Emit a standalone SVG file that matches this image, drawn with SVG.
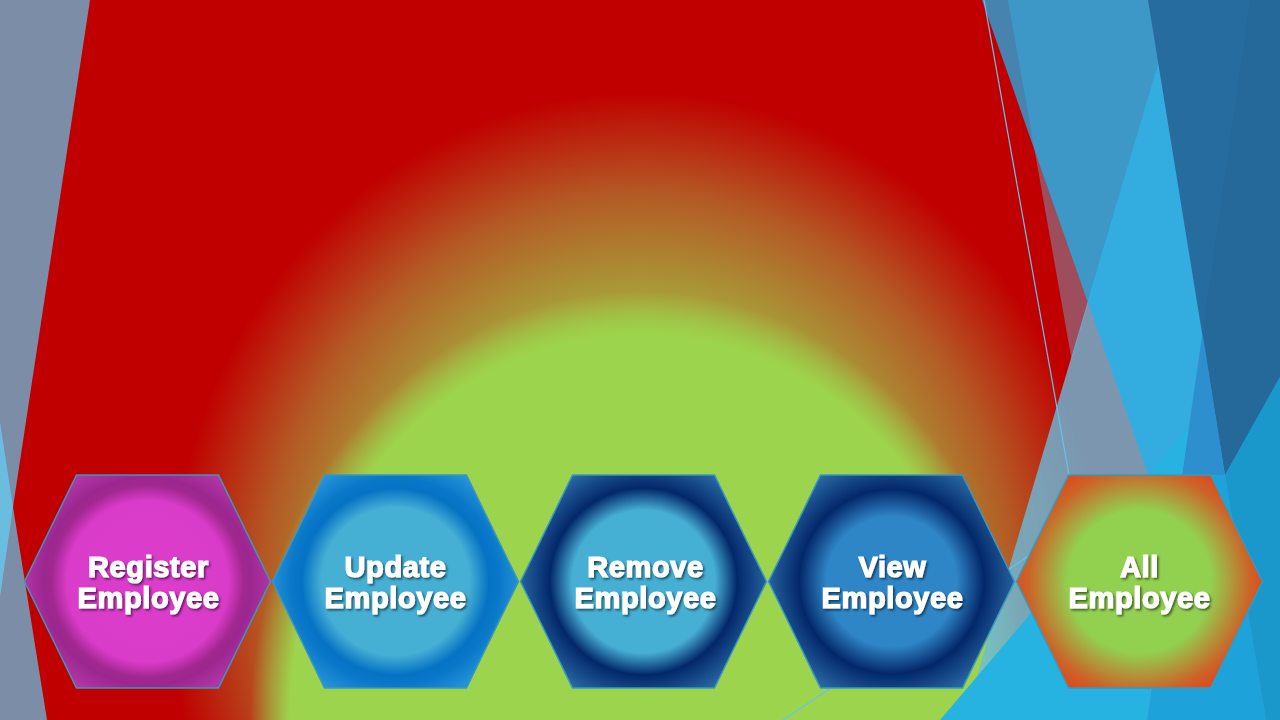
<svg xmlns="http://www.w3.org/2000/svg" width="1280" height="720" viewBox="0 0 1280 720">
  <defs>
    <style>
      .hex { stroke: #3A98BE; stroke-width: 1.5; }
      .lbl { font-family: "Liberation Sans", Arial, sans-serif; font-weight: 700; font-size: 29px; fill: #FFFFFF; stroke: #FFFFFF; stroke-width: 1.2; text-anchor: middle; letter-spacing: 0.6px; filter: url(#sh); }
      .thin { stroke: #62C4EC; stroke-width: 1.2; fill: none; }
    </style>
    <filter id="sh" x="-10%" y="-30%" width="130%" height="170%">
      <feDropShadow dx="1.6" dy="1.8" stdDeviation="0.9" flood-color="#000000" flood-opacity="0.55"/>
    </filter>
    <radialGradient id="bgA" gradientUnits="userSpaceOnUse" cx="640" cy="600" r="470" gradientTransform="translate(640 600) scale(1 1.08) translate(-640 -600)">
      <stop offset="0" stop-color="#9DD44D"/>
      <stop offset="0.55" stop-color="#A5AD3E"/>
      <stop offset="0.8" stop-color="#B45A25"/>
      <stop offset="1" stop-color="#C00000"/>
    </radialGradient>
    <radialGradient id="bgB" gradientUnits="userSpaceOnUse" cx="640" cy="720" r="398" gradientTransform="translate(640 720) scale(1 1.1) translate(-640 -720)">
      <stop offset="0" stop-color="#9DD44D" stop-opacity="1"/>
      <stop offset="0.88" stop-color="#9DD44D" stop-opacity="1"/>
      <stop offset="0.98" stop-color="#9DD44D" stop-opacity="0"/>
    </radialGradient>
    <radialGradient id="gMag" gradientUnits="userSpaceOnUse" cx="0" cy="0" r="130">
      <stop offset="0" stop-color="#DC3DCC"/>
      <stop offset="0.62" stop-color="#DA3CCA"/>
      <stop offset="0.74" stop-color="#A0288F"/>
      <stop offset="0.8" stop-color="#9C2690"/>
      <stop offset="1" stop-color="#B83AAD"/>
    </radialGradient>
    <radialGradient id="gUpd" gradientUnits="userSpaceOnUse" cx="0" cy="0" r="130">
      <stop offset="0" stop-color="#46AFD4"/>
      <stop offset="0.57" stop-color="#46AFD4"/>
      <stop offset="0.72" stop-color="#0572C3"/>
      <stop offset="0.8" stop-color="#0A78C8"/>
      <stop offset="1" stop-color="#2A9ADD"/>
    </radialGradient>
    <radialGradient id="gRem" gradientUnits="userSpaceOnUse" cx="0" cy="0" r="130">
      <stop offset="0" stop-color="#46AFD4"/>
      <stop offset="0.55" stop-color="#46AFD4"/>
      <stop offset="0.72" stop-color="#03286A"/>
      <stop offset="1" stop-color="#2D6FAA"/>
    </radialGradient>
    <radialGradient id="gView" gradientUnits="userSpaceOnUse" cx="0" cy="0" r="130">
      <stop offset="0" stop-color="#2F86C6"/>
      <stop offset="0.5" stop-color="#2F86C6"/>
      <stop offset="0.71" stop-color="#03286A"/>
      <stop offset="1" stop-color="#2D6FAA"/>
    </radialGradient>
    <radialGradient id="gAll" gradientUnits="userSpaceOnUse" cx="0" cy="0" r="130">
      <stop offset="0" stop-color="#92D050"/>
      <stop offset="0.55" stop-color="#92D050"/>
      <stop offset="0.85" stop-color="#CB6428"/>
      <stop offset="1" stop-color="#E3441A"/>
    </radialGradient>
    <polygon id="hexShape" points="-123,0 -71,-106.5 71,-106.5 123,0 71,106.5 -71,106.5"/>
  </defs>

  <g id="background">
    <rect x="0" y="0" width="1280" height="720" fill="url(#bgA)"/>
    <rect x="0" y="0" width="1280" height="720" fill="url(#bgB)"/>
  </g>

  <g id="decor-left">
    <polygon points="0,0 90,0 13,507 47,720 0,720" fill="#7C8DA8"/>
    <polygon points="0,422 13,507 0,597" fill="#6BBDE0"/>
  </g>

  <g id="decor-right">
    <polygon points="1008,0 1177,0 1071.7,360" fill="#6ABBDC" opacity="0.41"/>
    <polygon points="1177,0 1280,0 1280,720 964,720" fill="#6ABBDC" opacity="0.8"/>
    <polygon points="982,0 1280,0 1280,720 1234,720" fill="#17B5F2" opacity="0.72"/>
    <polygon points="1148,0 1280,0 1280,377 1225,475" fill="#276C9F"/>
    <polygon points="1250,0 1280,0 1280,377 1225,475 1202.5,333" fill="#25699B"/>
    <polygon points="1202.5,333 1225,475 1182,475" fill="#2E8FCF"/>
    <polygon points="1147,720 1182,475 1225,475 1266,720" fill="#1EA2DA"/>
    <polygon points="1225,475 1280,377 1280,720 1266,720" fill="#1A98CB"/>
    <polygon points="940,720 1188.8,428 1147,720" fill="#27B3E2"/>
  </g>

  <g id="lines">
    <line class="thin" x1="984" y1="0" x2="1069" y2="475"/>
    <line class="thin" x1="783" y1="720" x2="1030" y2="555"/>
  </g>

  <g id="node-register" transform="translate(147.5 581.5)">
    <use href="#hexShape" class="hex" fill="url(#gMag)"/>
    <text class="lbl"><tspan x="1" y="-4.5">Register</tspan><tspan x="1" y="26.5">Employee</tspan></text>
  </g>
  <g id="node-update" transform="translate(395.5 581.5)">
    <use href="#hexShape" class="hex" fill="url(#gUpd)"/>
    <text class="lbl"><tspan x="0" y="-4.5">Update</tspan><tspan x="0" y="26.5">Employee</tspan></text>
  </g>
  <g id="node-remove" transform="translate(643.5 581.5)">
    <use href="#hexShape" class="hex" fill="url(#gRem)"/>
    <text class="lbl"><tspan x="2" y="-4.5">Remove</tspan><tspan x="2" y="26.5">Employee</tspan></text>
  </g>
  <g id="node-view" transform="translate(891.5 581.5)">
    <use href="#hexShape" class="hex" fill="url(#gView)"/>
    <text class="lbl"><tspan x="1" y="-4.5">View</tspan><tspan x="1" y="26.5">Employee</tspan></text>
  </g>
  <g id="node-all" transform="translate(1139.5 581.5)">
    <use href="#hexShape" class="hex" fill="url(#gAll)"/>
    <text class="lbl"><tspan x="0" y="-4.5">All</tspan><tspan x="0" y="26.5">Employee</tspan></text>
  </g>
</svg>
